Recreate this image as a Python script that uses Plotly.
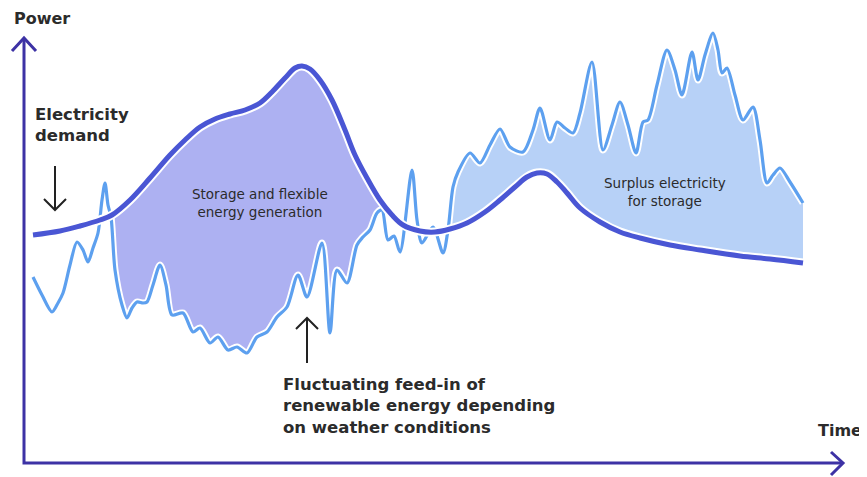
import numpy as np
import plotly.graph_objects as go

# ---- data (time, power) in arbitrary schematic units ----
demand_time = [9, 36, 56, 76, 88, 106, 126, 146, 161, 176, 191, 206, 221, 236, 248, 261, 271, 278,
               286, 296, 308, 321, 331, 343, 356, 368, 379, 396, 411, 426, 443, 461, 476, 491, 503,
               513, 523, 533, 543, 556, 576, 596, 616, 646, 676, 716, 746, 779]
demand_power = [228, 232, 237, 243, 248, 263, 285, 308, 323, 336, 344, 349, 353, 360, 371, 385, 395, 397,
                394, 383, 363, 333, 308, 285, 263, 248, 238, 232, 231, 234, 240, 251, 263, 276, 286,
                290, 289, 281, 270, 255, 241, 231, 225, 218, 213, 207, 204, 200]

renew_time = [9, 18, 28, 34, 39, 46, 53, 59, 64, 69, 74, 78, 81, 84, 87, 91, 98, 103, 108, 113, 119,
              123, 129, 136, 142, 148, 159, 169, 176, 186, 194, 204, 213, 223, 233, 243, 253, 263,
              274, 283, 298, 306, 313, 323, 333, 339, 346, 353, 358, 364, 370, 376, 388, 393, 398,
              409, 419, 424, 429, 434, 446, 456, 466, 476, 486, 499, 509, 516, 526, 533, 541, 549,
              556, 568, 579, 588, 596, 604, 612, 619, 624, 633, 643, 651, 658, 668, 674, 681, 689,
              694, 698, 703, 711, 719, 729, 736, 743, 749, 756, 766, 779]
renew_power = [186, 168, 151, 160, 170, 198, 221, 213, 201, 215, 230, 263, 280, 258, 246, 193, 158, 145,
               155, 161, 160, 161, 178, 198, 178, 148, 150, 131, 135, 120, 126, 113, 116, 110, 126,
               131, 146, 156, 188, 166, 220, 130, 193, 180, 218, 226, 233, 250, 253, 223, 227, 211,
               293, 243, 220, 236, 210, 233, 276, 291, 310, 300, 318, 334, 316, 311, 333, 355, 323,
               341, 335, 330, 350, 401, 313, 338, 361, 338, 310, 341, 343, 378, 413, 393, 368, 411,
               383, 408, 430, 413, 390, 395, 368, 343, 356, 323, 280, 288, 295, 281, 260]

deficit_span = (87, 358)   # demand above feed-in, filled
surplus_span = (424, 779)  # feed-in above demand, filled

# ---- styling ----
W, H = 867, 477
PAGE = 8          # default page margin around the figure
OX, OY = 24, 463  # screen pixel position of the origin
def px(x):
    return x - OX
def py(y):
    return OY - y

DEMAND_C = "#4a56d4"
RENEW_C = "#5da0ef"
DEFICIT_FILL = "#adb1f2"
SURPLUS_FILL = "#b7d1f7"
AXIS_C = "#3d32a5"
TEXT_C = "#2b2b2b"
FONT = "DejaVu Sans"
SM = 0.8

dt, dp = np.array(demand_time), np.array(demand_power)
rt, rp = np.array(renew_time), np.array(renew_power)

fig = go.Figure()
for span, col in [(deficit_span, DEFICIT_FILL), (surplus_span, SURPLUS_FILL)]:
    md = (dt >= span[0]) & (dt <= span[1])
    mr = (rt >= span[0]) & (rt <= span[1])
    fig.add_trace(go.Scatter(x=dt[md], y=dp[md], mode="lines",
                             line=dict(width=0, shape="spline", smoothing=1.0),
                             hoverinfo="skip", showlegend=False))
    fig.add_trace(go.Scatter(x=rt[mr], y=rp[mr], mode="lines", fill="tonexty", fillcolor=col,
                             line=dict(width=0, shape="spline", smoothing=SM),
                             hoverinfo="skip", showlegend=False))

fig.add_trace(go.Scatter(x=renew_time, y=renew_power, mode="lines",
                         line=dict(color="white", width=7, shape="spline", smoothing=SM),
                         hoverinfo="skip", showlegend=False))
fig.add_trace(go.Scatter(x=renew_time, y=renew_power, mode="lines",
                         line=dict(color=RENEW_C, width=3.2, shape="spline", smoothing=SM),
                         name="Renewable feed-in", showlegend=False))
fig.add_trace(go.Scatter(x=demand_time, y=demand_power, mode="lines",
                         line=dict(color="white", width=9, shape="spline", smoothing=1.0),
                         hoverinfo="skip", showlegend=False))
fig.add_trace(go.Scatter(x=demand_time, y=demand_power, mode="lines",
                         line=dict(color=DEMAND_C, width=5, shape="spline", smoothing=1.0),
                         name="Electricity demand", showlegend=False))

shapes = []
# axes with open chevron heads
shapes.append(dict(type="path", xref="x", yref="y",
                   path=f"M {px(24)},{py(38)} L {px(24)},{py(463)} L {px(842)},{py(463)}",
                   line=dict(color=AXIS_C, width=3)))
shapes.append(dict(type="path", xref="x", yref="y",
                   path=f"M {px(12)},{py(51)} L {px(24)},{py(38)} L {px(36)},{py(51)}",
                   line=dict(color=AXIS_C, width=3)))
shapes.append(dict(type="path", xref="x", yref="y",
                   path=f"M {px(831)},{py(452)} L {px(843)},{py(463)} L {px(831)},{py(475)}",
                   line=dict(color=AXIS_C, width=3)))
# pointer arrows
shapes.append(dict(type="path", xref="x", yref="y",
                   path=f"M {px(55)},{py(166)} L {px(55)},{py(210)} M {px(44)},{py(199)} L {px(55)},{py(210)} L {px(66)},{py(199)}",
                   line=dict(color="#222222", width=2)))
shapes.append(dict(type="path", xref="x", yref="y",
                   path=f"M {px(307)},{py(363)} L {px(307)},{py(318)} M {px(296)},{py(329)} L {px(307)},{py(318)} L {px(318)},{py(329)}",
                   line=dict(color="#222222", width=2)))

def txt(x, y, s, size, anchor="left", weight="bold"):
    return dict(x=px(x), y=py(y), xref="x", yref="y", text=s, showarrow=False,
                xanchor=anchor, yanchor="middle", align=anchor,
                font=dict(family=FONT, size=size, color=TEXT_C, weight=weight))

annotations = [
    txt(12, 18, "Power", 16),
    txt(33, 125, "Electricity<br>demand", 16.5),
    txt(260, 203, "Storage and flexible<br>energy generation", 13.5, "center", "normal"),
    txt(665, 192, "Surplus electricity<br>for storage", 13.5, "center", "normal"),
    txt(281, 406, "Fluctuating feed-in of<br>renewable energy depending<br>on weather conditions", 16.5),
    txt(816, 430, "Time", 16),
]

fig.update_layout(
    width=W, height=H, margin=dict(l=0, r=0, t=0, b=0),
    paper_bgcolor="white", plot_bgcolor="white",
    xaxis=dict(range=[px(PAGE), px(PAGE + W)], visible=False, fixedrange=True),
    yaxis=dict(range=[py(PAGE + H), py(PAGE)], visible=False, fixedrange=True),
    shapes=shapes, annotations=annotations, showlegend=False,
)
fig.write_html("out.html")
